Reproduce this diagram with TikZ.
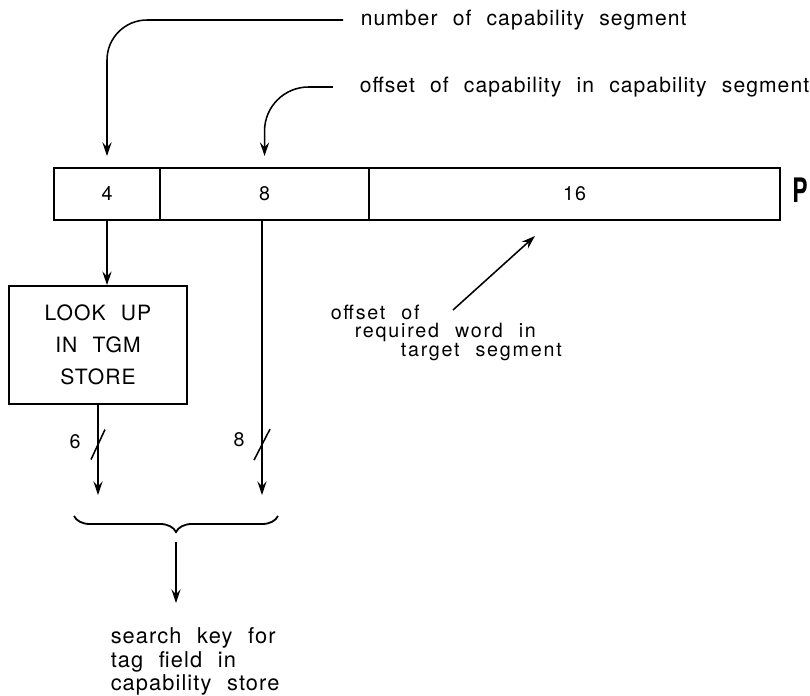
\documentclass[tikz,border=0pt]{standalone}
\usepackage{fontspec}
\setmainfont{TeX Gyre Heros}[LetterSpace=5,WordSpace=2.2]
\usepackage{tikz}
\usetikzlibrary{arrows.meta, positioning, calc, decorations.pathreplacing}

\begin{document}
\begin{tikzpicture}[
  x=0.025cm, y=-0.025cm,
  line width=1.1pt,
  font=\fontsize{14}{15}\selectfont,
  cell/.style={rectangle, draw, line width=1.2pt, inner sep=0pt, outer sep=0pt, minimum height=1.3cm},
  lbox/.style={rectangle, draw, line width=1.2pt, align=center,
               minimum width=4.45cm, minimum height=2.95cm, font=\fontsize{15}{22.8}\selectfont},
  fl/.style={-{Stealth[length=3.4mm, width=2.3mm, inset=1.2mm]}},
  cl/.style={fl, rounded corners=1cm},
  txt/.style={inner sep=0pt, anchor=west},
  brc/.style={decorate, decoration={brace, mirror, amplitude=0.4cm}, line width=1.3pt}
]
\useasboundingbox (0,0) rectangle (810,696);

% word P
\node[cell, minimum width=2.65cm] (c4) at (107,194) {4};
\node[cell, minimum width=5.225cm, right=0pt of c4] (c8) {8};
\node[cell, minimum width=10.275cm, right=0pt of c8] (c16) {16};
\node[font=\fontsize{24}{24}\selectfont\bfseries, xscale=0.68, transform shape] (p) at (800,190) {P};

% callouts from above
\node[txt, font=\fontsize{15}{16}\selectfont] (t1) at (360,20) {number of capability segment};
\node[txt, font=\fontsize{15}{16}\selectfont] (t2) at (359,87) {offset of capability in capability segment};
\draw[cl, shorten <=0.42cm, shorten >=0.3cm] (t1.west) -| (c4.north);
\draw[cl, rounded corners=1.1cm, shorten <=0.65cm, shorten >=0.3cm] (t2.west) -| (c8.north);

% TGM look up
\node[lbox] (look) at (98,345) {LOOK UP\\IN TGM\\STORE};
\draw[fl] (c4.south) -- (c4.south |- look.north);

% 6 + 8 bits into the key
\coordinate (k6) at (98,495);
\coordinate (k8) at (262,495);
\draw[fl] (look.south) -- coordinate[pos=0.44] (s6) (look.south |- k6);
\draw[fl] (c8.south -| k8) -- coordinate[pos=0.815] (s8) (k8);
\draw ($(s6)+(-7,15)$) -- ($(s6)+(7,-15)$);
\draw ($(s8)+(-8,16)$) -- ($(s8)+(8,-15)$);
\node (n6) at ($(s6)+(-23,-3)$) {6};
\node (n8) at ($(s8)+(-23,-4)$) {8};

% brace and search key
\coordinate (bl) at (74,516);
\coordinate (br) at (278,516);
\draw[brc] (bl) -- (br);
\path (bl) -- (br) coordinate[midway] (bm);
\node[txt, anchor=north west, align=left, font=\fontsize{15.5}{16.6}\selectfont] (key) at (110,627)
  {search key for\\tag field in\\capability store};
\draw[fl, shorten <=0.65cm, shorten >=0.6cm] (bm) -- (bm |- key.north);

% offset in target segment
\node[txt, anchor=north west, align=left, font=\fontsize{14}{13.3}\selectfont\addfontfeatures{LetterSpace=9}]
  (off) at (330,304)
  {offset of\\\hspace{0.6cm}required word in\\\hspace{1.75cm}target segment};
\coordinate (ot) at (453,310);
\coordinate (oh) at (535,236);
\draw[fl] (ot) -- (oh);

\end{tikzpicture}
\end{document}
